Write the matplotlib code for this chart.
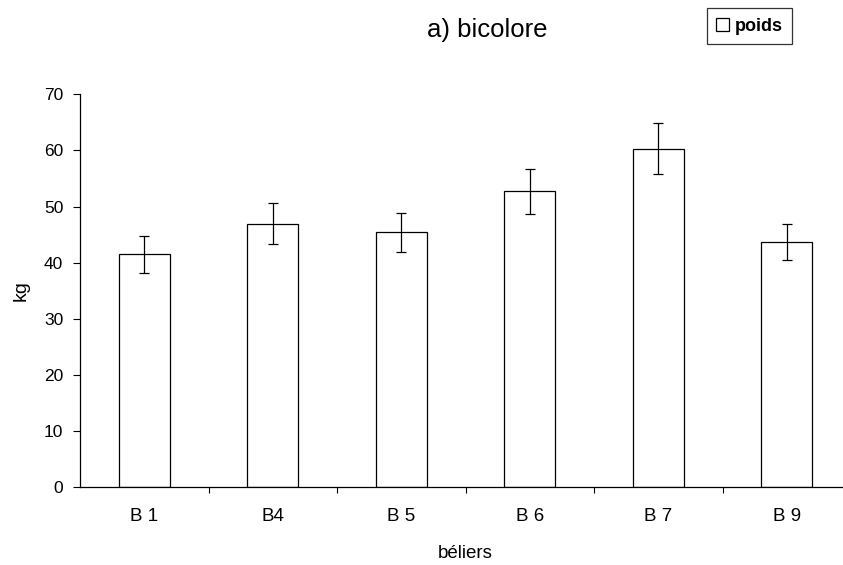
import numpy as np
import matplotlib
matplotlib.use('Agg')
import matplotlib.pyplot as plt

plt.rcParams['font.family'] = ['Liberation Sans', 'DejaVu Sans']

# Poids moyen des béliers (kg) et écart-type
beliers = ["B 1", "B4", "B 5", "B 6", "B 7", "B 9"]
poids = [41.5, 46.9, 45.4, 52.7, 60.3, 43.7]
ecart = [3.3, 3.65, 3.5, 4.0, 4.55, 3.25]

fig = plt.figure(figsize=(8.43, 5.65), dpi=100)
ax = fig.add_axes([80 / 843, 77.7 / 565, 771 / 843, 393 / 565])

x = np.arange(len(beliers))
ax.bar(x, poids, width=0.4, color='white', edgecolor='black', linewidth=0.9,
       label='poids', zorder=2)
ax.errorbar(x, poids, yerr=ecart, fmt='none', ecolor='black', elinewidth=0.9,
            capsize=3.5, capthick=0.9, zorder=3)

ax.set_xlim(-0.5, len(beliers) - 0.5)
ax.set_ylim(0, 70)
ax.set_yticks(range(0, 71, 10))

# ticks between categories, labels centred under the bars
ax.set_xticks(x + 0.5)
ax.set_xticklabels([])
ax.set_xticks(x, minor=True)
ax.set_xticklabels(beliers, minor=True, fontsize=13.5)
ax.tick_params(axis='x', which='minor', length=0, pad=15)
ax.tick_params(axis='x', which='major', length=4, direction='out', width=0.8)
ax.tick_params(axis='y', length=5, direction='out', width=0.8, labelsize=12.5, pad=7)

for side in ['top', 'right']:
    ax.spines[side].set_visible(False)
ax.spines['left'].set_linewidth(0.9)
ax.spines['bottom'].set_linewidth(0.9)

ax.set_ylabel('kg', fontsize=14, labelpad=10)
ax.set_xlabel('béliers', fontsize=13.5, labelpad=14)

fig.text(487 / 843, 1 - 37.5 / 565, 'a) bicolore', ha='center', va='baseline',
         fontsize=18.5)

leg = fig.legend(loc='upper left', bbox_to_anchor=(706.5 / 843, 1 - 8.5 / 565),
                 fontsize=13, frameon=True, fancybox=False, handlelength=0.75,
                 handleheight=0.75, handletextpad=0.3, borderpad=0.5,
                 borderaxespad=0)
leg.get_frame().set_edgecolor('black')
leg.get_frame().set_linewidth(0.9)
for t in leg.get_texts():
    t.set_fontweight('bold')

fig.savefig('out.png', dpi=100)
